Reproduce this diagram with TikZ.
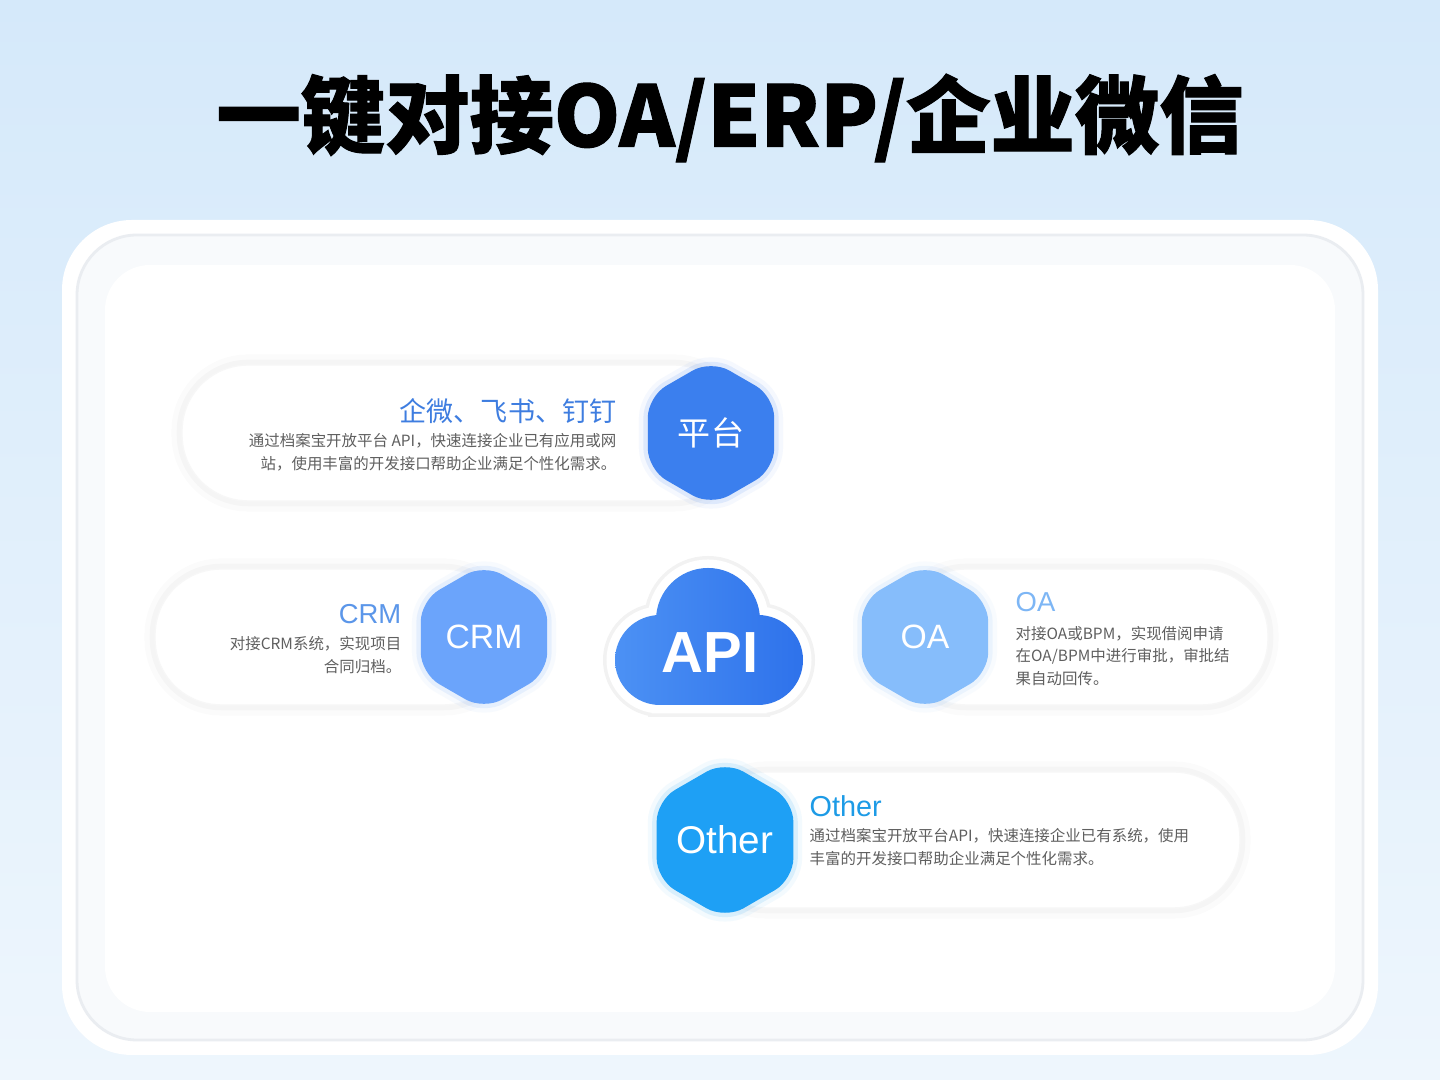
\documentclass[tikz,border=0pt]{standalone}
\usepackage{fontspec}
\setmainfont{Noto Sans CJK SC}
\newfontfamily\latinsf{Liberation Sans}
\newfontfamily\titlefont[FakeBold=1.2]{Noto Sans CJK SC}
\usepackage{xcolor}
\usepackage{tikz}
\usetikzlibrary{shapes.geometric,positioning}
\definecolor{bgtop}{RGB}{213,233,250}
\definecolor{bgbot}{RGB}{238,246,253}
\definecolor{cardline}{RGB}{234,237,241}
\definecolor{cardin}{RGB}{248,250,252}
\definecolor{pfblue}{RGB}{59,127,238}
\definecolor{pftitle}{RGB}{62,125,224}
\definecolor{crmblue}{RGB}{107,164,251}
\definecolor{crmtitle}{RGB}{91,150,233}
\definecolor{oablue}{RGB}{134,189,251}
\definecolor{oatitle}{RGB}{125,182,245}
\definecolor{othblue}{RGB}{30,160,245}
\definecolor{othtitle}{RGB}{29,155,230}
\definecolor{desc}{RGB}{95,95,95}
\definecolor{cloudA}{RGB}{76,145,244}
\definecolor{cloudB}{RGB}{46,114,235}

\begin{document}
\begin{tikzpicture}[
      hexa/.style={regular polygon,regular polygon sides=6,shape border rotate=30,minimum size=1.46cm,inner sep=0pt,
        rounded corners=6pt,fill=#1,text=white,
        preaction={draw=#1,draw opacity=0.05,line width=5pt},
        preaction={draw=#1,draw opacity=0.12,line width=2.5pt}},
      bar/.style={rectangle,rounded corners=0.66cm,fill=white,draw=black!3,minimum height=1.36cm,
        preaction={draw=black,draw opacity=0.015,line width=6pt},
        preaction={draw=black,draw opacity=0.025,line width=3pt}},
      head/.style={inner sep=0pt,font=\latinsf\fontsize{7.8}{9}\selectfont},
      info/.style={inner sep=0pt,align=#1,text=desc,font=\fontsize{4.4}{6.5}\selectfont}
    ]
      \useasboundingbox (0,0) rectangle (14.4,10.8);
      % background and card
      \shade[top color=bgtop,bottom color=bgbot] (0,0) rectangle (14.4,10.8);
      \fill[white,rounded corners=0.7cm] (0.62,0.25) rectangle (13.78,8.60);
      \draw[cardline,fill=cardin,line width=0.8pt,rounded corners=0.6cm] (0.77,0.40) rectangle (13.63,8.45);
      \fill[white,rounded corners=0.45cm] (1.05,0.68) rectangle (13.35,8.15);
      % title
      \node[font=\titlefont\bfseries\fontsize{24}{26}\selectfont] (title) at (7.30,9.62) {一键对接OA/ERP/企业微信};
      % platform row
      \node[bar,minimum width=5.58cm] (pfbar) at (4.61,6.47) {};
      \node[hexa=pfblue,font=\fontsize{9.4}{10}\selectfont] (pfhex) at (7.11,6.47) {平台};
      \node[head,font=\fontsize{7.7}{9}\selectfont,text=pftitle,anchor=east] (pftitle) at (6.17,6.69) {企微、飞书、钉钉};
      \node[info=right,anchor=east] (pfinfo) at (6.17,6.275) {通过档案宝开放平台 API，快速连接企业已有应用或网\\站，使用丰富的开发接口帮助企业满足个性化需求。};
      % CRM
      \node[bar,minimum width=3.55cm] (crmbar) at (3.325,4.43) {};
      \node[hexa=crmblue,font=\latinsf\fontsize{9.6}{10}\selectfont] (crmhex) at (4.84,4.43) {CRM};
      \node[head,text=crmtitle,anchor=east] (crmtitle) at (4.02,4.66) {CRM};
      \node[info=right,anchor=east] (crminfo) at (4.02,4.245) {对接CRM系统，实现项目\\合同归档。};
      % OA
      \node[bar,minimum width=3.68cm] (oabar) at (10.84,4.43) {};
      \node[hexa=oablue,font=\latinsf\fontsize{9.6}{10}\selectfont] (oahex) at (9.25,4.43) {OA};
      \node[head,text=oatitle,anchor=west] (oatitle) at (10.15,4.78) {OA};
      \node[info=left,anchor=west] (oainfo) at (10.15,4.24) {对接OA或BPM，实现借阅申请\\在OA/BPM中进行审批，审批结\\果自动回传。};
      % Other
      \node[bar,minimum width=5.40cm] (othbar) at (9.70,2.40) {};
      \node[hexa=othblue,font=\latinsf\fontsize{11}{12}\selectfont] (othhex) at (7.25,2.40) {Other};
      \node[head,font=\latinsf\fontsize{8.2}{9}\selectfont,text=othtitle,anchor=west] (othtitle) at (8.09,2.74) {Other};
      \node[info=left,anchor=west] (othinfo) at (8.09,2.325) {通过档案宝开放平台API，快速连接企业已有系统，使用\\丰富的开发接口帮助企业满足个性化需求。};
      % API cloud: halo, white rim, then the shaded body
      \foreach \lw/\op/\col in {0.24cm/0.05/black,0.17cm/1/white}
        \draw[\col,draw opacity=\op,line width=\lw] (7.08,4.60) circle (0.52) (6.60,4.20) circle (0.45) (7.58,4.20) circle (0.45)
          (6.60,3.75) -- (7.58,3.75) -- (7.58,4.40) -- (6.60,4.40) -- cycle;
      \shade[left color=cloudA,right color=cloudB] (7.08,4.60) circle (0.52) (6.60,4.20) circle (0.45) (7.58,4.20) circle (0.45)
          (6.60,3.75) -- (7.58,3.75) -- (7.58,4.40) -- (6.60,4.40) -- cycle;
      \node[font=\latinsf\bfseries\fontsize{16.5}{18}\selectfont,text=white] (api) at (7.10,4.27) {API};
    \end{tikzpicture}
\end{document}
